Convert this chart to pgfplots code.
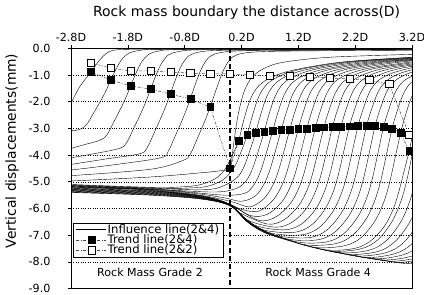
\documentclass[border=0pt]{standalone}
\usepackage{fontspec}
\setmainfont{DejaVu Sans}
\usepackage{pgfplots}
\pgfplotsset{compat=1.18}
\pgfplotsset{
  inf/.style={black, line width=0.4pt, smooth, tension=0.55, forget plot, mark=none},
  trendf/.style={gray!55!black, line width=0.5pt, dash pattern=on 3bp off 1.5bp on 1bp off 1.5bp, mark=square*, mark size=3.4bp, mark options={solid, fill=black, draw=black}},
  trendo/.style={gray!55!black, line width=0.5pt, dash pattern=on 3bp off 1.5bp on 1bp off 1.5bp, mark=square*, mark size=3.6bp, mark options={solid, fill=white, draw=black, line width=0.6pt}},
}
\begin{document}
\begin{tikzpicture}
\begin{axis}[
  name=ax,
  scale only axis, width=341bp, height=240.3bp,
  xmin=-2.8, xmax=3.2, ymin=-9, ymax=0,
  clip mode=individual,
  xtick={-2.8,-1.8,-0.8,0.2,1.2,2.2,3.2},
  xticklabels={-2.8D,-1.8D,-0.8D,0.2D,1.2D,2.2D,3.2D},
  xtick pos=right, xticklabel pos=right,
  ytick={-9,-8,-7,-6,-5,-4,-3,-2,-1,0},
  yticklabels={-9.0,-8.0,-7.0,-6.0,-5.0,-4.0,-3.0,-2.0,-1.0,0.0},
  ytick pos=left,
  tick align=outside, major tick length=3bp,
  tick style={black, line width=0.6pt},
  ticklabel style={font=\fontsize{11.2}{13}\selectfont},
  yticklabel shift=14bp,
  xticklabel shift=0.5bp,
  ymajorgrids, grid style={black, dotted, line width=0.5pt},
  axis line style={black, line width=1pt},
  xlabel={Rock mass boundary the distance across(D)},
  xlabel style={at={(axis description cs:0.515,1.15)}, anchor=center, font=\fontsize{14}{16}\selectfont, inner sep=0pt},
  ylabel={Vertical displacements(mm)},
  ylabel style={at={(axis description cs:-0.173,0.573)}, anchor=center, font=\fontsize{13.9}{16}\selectfont, inner sep=0pt},
  legend style={at={(axis cs:-2.765,-6.53)}, anchor=north west, draw=black, line width=0.5pt, fill=white, font=\fontsize{11.7}{13}\selectfont, inner xsep=3bp, inner ysep=0.5bp, row sep=-2bp, nodes={inner sep=1bp, font=\fontsize{11.7}{13}\selectfont}, /tikz/every even column/.append style={column sep=9bp}},
  legend cell align=left,
  legend image code/.code={\draw[mark repeat=2,mark phase=2,#1] plot coordinates {(0bp,0bp) (15bp,0bp) (30bp,0bp)};},
]
\addlegendimage{black, line width=0.5pt}
\addlegendentry{Influence line(2\&4)}
\addlegendimage{trendf}
\addlegendentry{Trend line(2\&4)}
\addlegendimage{trendo}
\addlegendentry{Trend line(2\&2)}

% ---- influence lines, faces in rock mass grade 2 ----
\addplot[inf] coordinates {(-3.1,-3.0) (-2.95,-2.6) (-2.8,-2.05) (-2.65,-1.45) (-2.45,-0.89) (-2.3,-0.45) (-2.15,-0.15) (-2.0,-0.06) (-1.7,-0.035) (-1.0,-0.03) (0.5,-0.025) (3.3,-0.02)};
\addplot[inf] coordinates {(-3.0,-3.15) (-2.8,-3.09) (-2.66,-3.05) (-2.53,-2.87) (-2.41,-2.45) (-2.31,-2.09) (-2.21,-1.70) (-2.11,-1.24) (-2.01,-0.79) (-1.91,-0.43) (-1.79,-0.19) (-1.61,-0.085) (-1.31,-0.04) (0,-0.035) (3.3,-0.025)};
\addplot[inf] coordinates {(-2.8,-3.75) (-2.55,-3.6) (-2.30,-3.45) (-2.17,-3.25) (-2.05,-2.77) (-1.95,-2.36) (-1.85,-1.92) (-1.75,-1.41) (-1.65,-0.90) (-1.55,-0.49) (-1.43,-0.22) (-1.25,-0.10) (-0.95,-0.05) (0.5,-0.045) (3.3,-0.03)};
\addplot[inf] coordinates {(-2.8,-4.10) (-2.4,-3.95) (-1.95,-3.75) (-1.82,-3.53) (-1.70,-3.01) (-1.60,-2.57) (-1.50,-2.09) (-1.40,-1.54) (-1.30,-0.98) (-1.20,-0.54) (-1.08,-0.24) (-0.90,-0.12) (-0.60,-0.06) (0.5,-0.05) (3.3,-0.035)};
\addplot[inf] coordinates {(-2.8,-4.35) (-2.2,-4.15) (-1.59,-3.95) (-1.46,-3.72) (-1.34,-3.18) (-1.24,-2.71) (-1.14,-2.21) (-1.04,-1.63) (-0.94,-1.05) (-0.84,-0.58) (-0.72,-0.27) (-0.54,-0.14) (-0.24,-0.08) (0.6,-0.065) (3.3,-0.045)};
\addplot[inf] coordinates {(-2.8,-4.56) (-2.0,-4.35) (-1.22,-4.10) (-1.09,-3.86) (-0.97,-3.30) (-0.87,-2.82) (-0.77,-2.30) (-0.67,-1.70) (-0.57,-1.10) (-0.47,-0.62) (-0.35,-0.30) (-0.17,-0.16) (0.13,-0.10) (0.8,-0.08) (3.3,-0.055)};
\addplot[inf] coordinates {(-2.8,-4.77) (-1.4,-4.53) (-0.83,-4.20) (-0.70,-3.96) (-0.58,-3.39) (-0.48,-2.90) (-0.38,-2.37) (-0.28,-1.76) (-0.18,-1.15) (-0.08,-0.66) (0.04,-0.33) (0.22,-0.19) (0.52,-0.13) (1.2,-0.10) (3.3,-0.07)};
\addplot[inf] coordinates {(-2.8,-4.97) (-1.4,-4.82) (-0.5,-4.66) (-0.15,-4.58) (0.0,-4.49) (0.06,-3.6) (0.14,-2.5) (0.25,-1.6) (0.4,-1.05) (0.65,-0.7) (1.0,-0.5) (1.8,-0.33) (3.3,-0.22)};

% ---- influence lines, faces in rock mass grade 4 ----
\addplot[inf] coordinates {(-2.8,-5.10) (-1.35,-5.21) (-0.85,-5.19) (-0.55,-5.12) (-0.3,-4.93) (-0.15,-4.69) (-0.05,-4.39) (0.05,-3.95) (0.15,-3.46) (0.23,-2.77) (0.35,-1.94) (0.5,-1.41) (0.75,-1.06) (1.15,-0.80) (1.95,-0.52) (3.15,-0.34) (3.3,-0.33)};
\addplot[inf] coordinates {(-2.8,-5.12) (-1.2,-5.24) (-0.7,-5.23) (-0.4,-5.17) (-0.15,-4.96) (0.0,-4.67) (0.1,-4.35) (0.2,-3.84) (0.3,-3.25) (0.38,-2.61) (0.5,-1.83) (0.65,-1.34) (0.9,-1.01) (1.3,-0.76) (2.1,-0.50) (3.3,-0.33)};
\addplot[inf] coordinates {(-2.8,-5.13) (-1.05,-5.27) (-0.55,-5.30) (-0.25,-5.25) (0.0,-5.03) (0.15,-4.78) (0.25,-4.41) (0.35,-3.81) (0.45,-3.16) (0.53,-2.54) (0.65,-1.78) (0.8,-1.31) (1.05,-0.99) (1.45,-0.75) (2.25,-0.49) (3.45,-0.33)};
\addplot[inf] coordinates {(-2.8,-5.15) (-0.9,-5.33) (-0.4,-5.38) (-0.1,-5.36) (0.15,-5.21) (0.3,-4.91) (0.4,-4.47) (0.5,-3.82) (0.6,-3.12) (0.68,-2.50) (0.8,-1.76) (0.95,-1.29) (1.2,-0.98) (1.6,-0.74) (2.4,-0.49) (3.6,-0.33)};
\addplot[inf] coordinates {(-2.8,-5.16) (-1.4,-5.26) (-0.75,-5.38) (-0.25,-5.48) (0.05,-5.50) (0.3,-5.39) (0.45,-5.00) (0.55,-4.52) (0.65,-3.82) (0.75,-3.09) (0.83,-2.48) (0.95,-1.75) (1.1,-1.28) (1.35,-0.97) (1.75,-0.74) (2.55,-0.49) (3.75,-0.32)};
\addplot[inf] coordinates {(-2.8,-5.18) (-1.4,-5.28) (-0.6,-5.44) (-0.1,-5.60) (0.2,-5.73) (0.45,-5.52) (0.6,-5.07) (0.7,-4.55) (0.8,-3.82) (0.9,-3.06) (0.98,-2.46) (1.1,-1.73) (1.25,-1.27) (1.5,-0.96) (1.9,-0.73) (2.7,-0.49) (3.9,-0.32)};
\addplot[inf] coordinates {(-2.8,-5.19) (-1.4,-5.29) (-0.45,-5.53) (0.05,-5.76) (0.35,-5.94) (0.6,-5.62) (0.75,-5.13) (0.85,-4.59) (0.95,-3.83) (1.05,-3.04) (1.13,-2.44) (1.25,-1.72) (1.4,-1.26) (1.65,-0.96) (2.05,-0.73) (2.85,-0.48) (4.05,-0.32)};
\addplot[inf] coordinates {(-2.8,-5.21) (-1.4,-5.31) (-0.3,-5.62) (0.2,-6.03) (0.5,-6.10) (0.75,-5.70) (0.9,-5.18) (1.0,-4.62) (1.1,-3.83) (1.2,-3.02) (1.28,-2.43) (1.4,-1.71) (1.55,-1.26) (1.8,-0.95) (2.2,-0.72) (3.0,-0.48) (4.2,-0.32)};
\addplot[inf] coordinates {(-2.8,-5.22) (-1.4,-5.32) (-0.15,-5.74) (0.35,-6.26) (0.65,-6.22) (0.9,-5.78) (1.05,-5.23) (1.15,-4.65) (1.25,-3.84) (1.35,-3.00) (1.43,-2.41) (1.55,-1.70) (1.7,-1.25) (1.95,-0.95) (2.35,-0.72) (3.15,-0.48) (4.35,-0.32)};
\addplot[inf] coordinates {(-2.8,-5.24) (-1.4,-5.34) (-0.5,-5.53) (0.0,-5.86) (0.5,-6.44) (0.8,-6.32) (1.05,-5.84) (1.2,-5.28) (1.3,-4.68) (1.4,-3.84) (1.5,-2.98) (1.58,-2.39) (1.7,-1.69) (1.85,-1.24) (2.1,-0.95) (2.5,-0.72) (3.3,-0.48)};
\addplot[inf] coordinates {(-2.8,-5.25) (-1.4,-5.35) (-0.5,-5.54) (0.0,-5.86) (0.15,-6.14) (0.65,-6.58) (0.95,-6.42) (1.2,-5.91) (1.35,-5.33) (1.45,-4.70) (1.55,-3.84) (1.65,-2.96) (1.73,-2.38) (1.85,-1.68) (2.0,-1.24) (2.25,-0.94) (2.65,-0.71) (3.45,-0.48)};
\addplot[inf] coordinates {(-2.8,-5.27) (-1.4,-5.37) (-0.5,-5.55) (0.0,-5.86) (0.3,-6.43) (0.8,-6.70) (1.1,-6.50) (1.35,-5.98) (1.5,-5.37) (1.6,-4.73) (1.7,-3.85) (1.8,-2.95) (1.88,-2.37) (2.0,-1.67) (2.15,-1.23) (2.4,-0.94) (2.8,-0.71) (3.6,-0.48)};
\addplot[inf] coordinates {(-2.8,-5.28) (-1.4,-5.38) (-0.5,-5.57) (0.0,-5.87) (0.15,-6.15) (0.45,-6.64) (0.95,-6.80) (1.25,-6.59) (1.5,-6.04) (1.65,-5.41) (1.75,-4.75) (1.85,-3.85) (1.95,-2.93) (2.03,-2.36) (2.15,-1.66) (2.3,-1.23) (2.55,-0.93) (2.95,-0.71) (3.75,-0.47)};
\addplot[inf] coordinates {(-2.8,-5.30) (-1.4,-5.40) (-0.5,-5.58) (0.0,-5.87) (0.3,-6.45) (0.6,-6.81) (1.1,-6.90) (1.4,-6.67) (1.65,-6.09) (1.8,-5.45) (1.9,-4.77) (2.0,-3.85) (2.1,-2.92) (2.18,-2.35) (2.3,-1.66) (2.45,-1.22) (2.7,-0.93) (3.1,-0.71) (3.9,-0.47)};
\addplot[inf] coordinates {(-2.8,-5.31) (-1.4,-5.41) (-0.5,-5.59) (0.0,-5.88) (0.15,-6.17) (0.45,-6.66) (0.75,-6.94) (1.25,-6.99) (1.55,-6.74) (1.8,-6.14) (1.95,-5.48) (2.05,-4.80) (2.15,-3.86) (2.25,-2.91) (2.33,-2.34) (2.45,-1.65) (2.6,-1.22) (2.85,-0.93) (3.25,-0.70)};
\addplot[inf] coordinates {(-2.8,-5.33) (-1.4,-5.43) (-0.5,-5.60) (0.0,-5.88) (0.3,-6.46) (0.6,-6.84) (0.9,-7.05) (1.4,-7.09) (1.7,-6.81) (1.95,-6.19) (2.1,-5.52) (2.2,-4.83) (2.3,-3.88) (2.4,-2.91) (2.48,-2.34) (2.6,-1.65) (2.75,-1.22) (3.0,-0.93) (3.4,-0.70)};
\addplot[inf] coordinates {(-2.8,-5.34) (-1.4,-5.44) (-0.5,-5.61) (0.0,-5.88) (0.3,-6.47) (0.6,-6.85) (1.05,-7.16) (1.55,-7.17) (1.85,-6.87) (2.1,-6.24) (2.25,-5.56) (2.35,-4.85) (2.45,-3.89) (2.55,-2.91) (2.63,-2.34) (2.75,-1.65) (2.9,-1.22) (3.15,-0.93) (3.55,-0.70)};
\addplot[inf] coordinates {(-2.8,-5.36) (-1.4,-5.46) (-0.5,-5.62) (0.0,-5.89) (0.3,-6.48) (0.6,-6.86) (1.2,-7.26) (1.7,-7.25) (2.0,-6.94) (2.25,-6.30) (2.4,-5.62) (2.5,-4.90) (2.6,-3.93) (2.7,-2.95) (2.78,-2.37) (2.9,-1.67) (3.05,-1.23) (3.3,-0.94)};
\addplot[inf] coordinates {(-2.8,-5.37) (-1.4,-5.47) (-0.5,-5.63) (0.0,-5.89) (0.3,-6.49) (0.6,-6.88) (1.0,-7.16) (1.35,-7.37) (1.85,-7.32) (2.15,-7.01) (2.4,-6.37) (2.55,-5.67) (2.65,-4.96) (2.75,-3.98) (2.85,-3.00) (2.93,-2.41) (3.05,-1.70) (3.2,-1.25) (3.45,-0.95)};
\addplot[inf] coordinates {(-2.8,-5.39) (-1.4,-5.49) (-0.5,-5.64) (0.0,-5.90) (0.3,-6.49) (0.6,-6.89) (1.0,-7.17) (1.5,-7.46) (2.0,-7.40) (2.3,-7.10) (2.55,-6.46) (2.7,-5.78) (2.8,-5.08) (2.9,-4.13) (3.0,-3.17) (3.08,-2.54) (3.2,-1.79) (3.35,-1.31)};
\addplot[inf] coordinates {(-2.8,-5.40) (-1.4,-5.50) (-0.5,-5.65) (0.0,-5.90) (0.3,-6.50) (0.6,-6.90) (1.0,-7.18) (1.65,-7.54) (2.15,-7.51) (2.45,-7.25) (2.7,-6.71) (2.85,-6.12) (2.95,-5.51) (3.05,-4.69) (3.15,-3.85) (3.23,-3.07) (3.35,-2.14)};
\addplot[inf] coordinates {(1.3,-7.36) (1.8,-7.60) (2.3,-7.51) (2.6,-7.17) (2.85,-6.48) (3.0,-5.76) (3.1,-5.02) (3.2,-4.02) (3.3,-3.00) (3.38,-2.41)};
\addplot[inf] coordinates {(1.45,-7.445) (1.95,-7.66) (2.45,-7.56) (2.75,-7.20) (3.0,-6.51) (3.15,-5.79) (3.25,-5.04) (3.35,-4.02) (3.45,-3.0)};
\addplot[inf] coordinates {(1.6,-7.52) (2.1,-7.72) (2.6,-7.61) (2.9,-7.24) (3.15,-6.55) (3.3,-5.81) (3.4,-5.05)};
\addplot[inf] coordinates {(1.75,-7.58) (2.25,-7.78) (2.75,-7.65) (3.05,-7.28) (3.3,-6.57) (3.45,-5.82)};
\addplot[inf] coordinates {(1.9,-7.64) (2.4,-7.84) (2.9,-7.69) (3.2,-7.32) (3.45,-6.59)};
\addplot[inf] coordinates {(2.05,-7.70) (2.55,-7.885) (3.05,-7.73) (3.35,-7.35) (3.6,-6.6)};
\addplot[inf] coordinates {(2.2,-7.76) (2.7,-7.93) (3.2,-7.78) (3.5,-7.37)};
\addplot[inf] coordinates {(2.35,-7.82) (2.85,-7.975) (3.35,-7.81) (3.65,-7.40)};
\addplot[inf] coordinates {(2.5,-7.87) (3.0,-8.02) (3.5,-7.84)};
\addplot[inf] coordinates {(2.65,-7.915) (3.15,-8.065) (3.65,-7.87)};

% ---- rock mass boundary ----
\addplot[black, line width=1.3pt, dash pattern=on 5bp off 3bp, forget plot] coordinates {(0,0) (0,-9)};

% ---- trend lines ----
\addplot[trendo, forget plot] coordinates {(-2.45,-0.55) (-2.1,-0.74) (-1.75,-0.85) (-1.4,-0.85) (-1.05,-0.89) (-0.7,-0.93) (-0.35,-0.96) (0,-0.96) (0.35,-1.00) (0.7,-1.04) (1.05,-1.04) (1.4,-1.07) (1.75,-1.11) (2.1,-1.15) (2.45,-1.19) (2.8,-1.34) (3.15,-3.25)};
\addplot[trendf, forget plot] coordinates {(-2.45,-0.89) (-2.1,-1.19) (-1.75,-1.41) (-1.4,-1.53) (-1.05,-1.71) (-0.7,-1.90) (-0.35,-2.20) (0,-4.49) (0.15,-3.46) (0.30,-3.25) (0.45,-3.16) (0.60,-3.12) (0.75,-3.09) (0.90,-3.06) (1.05,-3.04) (1.20,-3.02) (1.35,-3.00) (1.50,-2.98) (1.65,-2.96) (1.80,-2.95) (1.95,-2.93) (2.10,-2.92) (2.25,-2.91) (2.40,-2.91) (2.55,-2.91) (2.70,-2.95) (2.85,-3.00) (3.00,-3.17) (3.15,-3.85)};

\node[font=\fontsize{11.1}{13}\selectfont] at (axis cs:-1.41,-8.4) {Rock Mass Grade 2};
\node[font=\fontsize{11.1}{13}\selectfont] at (axis cs:1.55,-8.4) {Rock Mass Grade 4};
\end{axis}
\pgfresetboundingbox
\path[use as bounding box] ([shift={(-71bp,-6.4bp)}]ax.south west) rectangle ([shift={(12bp,48.3bp)}]ax.north east);
\end{tikzpicture}
\end{document}
